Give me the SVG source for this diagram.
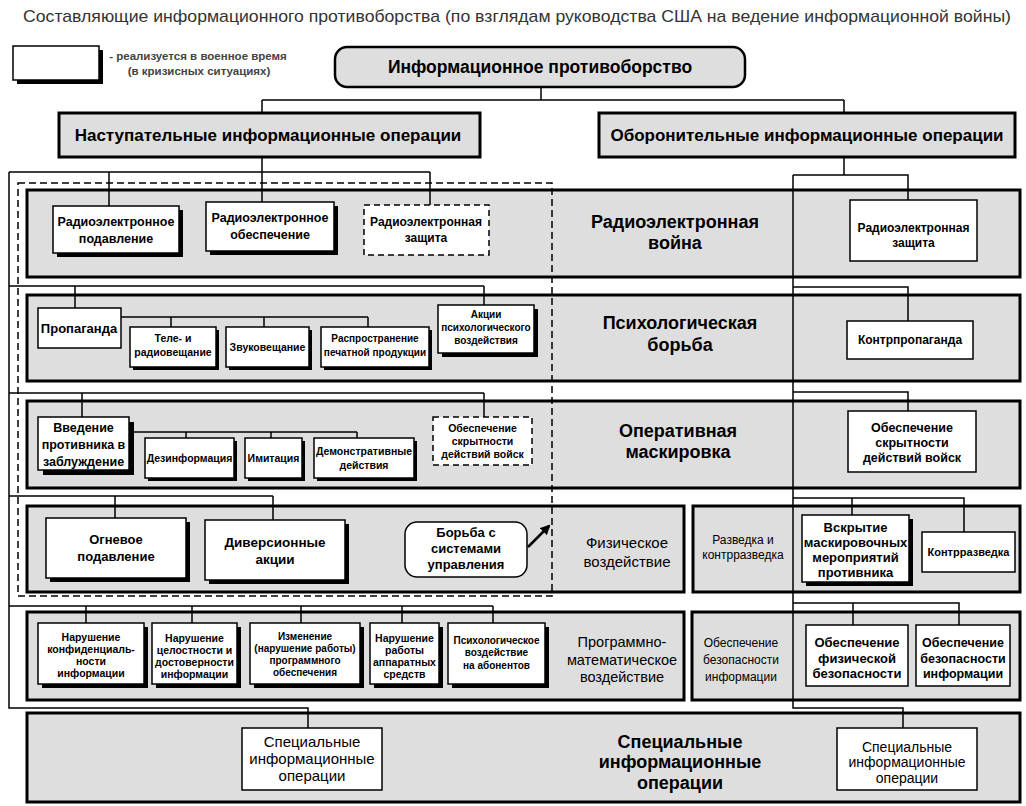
<svg xmlns="http://www.w3.org/2000/svg" width="1026" height="806" viewBox="0 0 1026 806">
<style>
text{font-family:"Liberation Sans",Arial,sans-serif;fill:#000;text-anchor:middle}
.t{font-size:17px;fill:#333}
.lg{font-size:11.5px;font-weight:bold;fill:#444}
.band{fill:#dedede;stroke:#000;stroke-width:3}
.hdr{fill:#dedede;stroke:#000;stroke-width:3}
.node{fill:#fff;stroke:#000;stroke-width:1.5}
.dnode{fill:#fff;stroke:#000;stroke-width:1.5;stroke-dasharray:6 4}
.sh{fill:#000}
.bt{font-size:18px;font-weight:bold}
.rt{font-size:15px}
.st{font-size:12px}
.b13{font-size:13px;font-weight:bold}
.b12{font-size:12px;font-weight:bold}
.b105{font-size:10.5px;font-weight:bold}
.b10{font-size:10px;font-weight:bold}
.h{font-size:17px;font-weight:bold}
#conn path{fill:none;stroke:#000;stroke-width:1.5}
</style>
<defs>
<marker id="ah" markerWidth="10" markerHeight="10" refX="8" refY="5" orient="auto" markerUnits="userSpaceOnUse">
<path d="M0,0 L10,5 L0,10 Z" fill="#000"/>
</marker>
</defs>

<text class="t" x="517" y="22" textLength="988" lengthAdjust="spacingAndGlyphs">Составляющие информационного противоборства (по взглядам руководства США на ведение информационной войны)</text>

<g id="legend">
<rect class="sh" x="17" y="50" width="86" height="34"/>
<rect class="node" x="13" y="46" width="86" height="34"/>
<text class="lg" x="198" y="60">- реализуется в военное время</text>
<text class="lg" x="199" y="75">(в кризисных ситуациях)</text>
</g>

<!-- bands -->
<g id="band-rew"><rect class="band" x="27" y="190" width="993" height="87"/>
<text class="bt" x="675" y="228">Радиоэлектронная</text><text class="bt" x="675" y="249">война</text></g>
<g id="band-psy"><rect class="band" x="27" y="295" width="993" height="86"/>
<text class="bt" x="680" y="329">Психологическая</text><text class="bt" x="680" y="351">борьба</text></g>
<g id="band-mask"><rect class="band" x="27" y="401" width="993" height="87"/>
<text class="bt" x="678" y="437">Оперативная</text><text class="bt" x="678" y="458">маскировка</text></g>
<g id="band-phys"><rect class="band" x="27" y="506" width="657" height="86"/>
<text class="rt" x="627" y="548">Физическое</text><text class="rt" x="627" y="567">воздействие</text></g>
<g id="band-recon"><rect class="band" x="693" y="506" width="327" height="86"/>
<text class="st" x="743" y="544">Разведка и</text><text class="st" x="743" y="559">контрразведка</text></g>
<g id="band-prog"><rect class="band" x="27" y="612" width="657" height="88"/>
<text class="rt" x="622" y="647" style="font-size:14.5px">Программно-</text><text class="rt" x="622" y="665" style="font-size:14.5px">математическое</text><text class="rt" x="622" y="682" style="font-size:14.5px">воздействие</text></g>
<g id="band-infosec"><rect class="band" x="692" y="612" width="328" height="88"/>
<text class="st" x="741" y="647">Обеспечение</text><text class="st" x="741" y="664">безопасности</text><text class="st" x="741" y="681">информации</text></g>
<g id="band-special"><rect class="band" x="27" y="713" width="993" height="89"/>
<text class="bt" x="680" y="748">Специальные</text><text class="bt" x="680" y="768">информационные</text><text class="bt" x="680" y="789">операции</text></g>

<!-- connectors -->
<g id="conn">
<path d="M541 87V100M262 100H844M262 100V113M844 100V113"/>
<path d="M262 157V172M9 172H430M109 172V206M262 172V202M430 172V205"/>
<path d="M9 172V708H308V728"/>
<path d="M9 286H484M75 286V308M484 286V305"/>
<path d="M121 317H368M171 317V327M264 317V327M368 317V327"/>
<path d="M9 393H484M82 393V417M484 393V417"/>
<path d="M129 432H357M186 432V438M271 432V438M357 432V438"/>
<path d="M9 496H273M115 496V518M273 496V520"/>
<path d="M9 606H493M86 606V623M192 606V623M301 606V623M402 606V623M493 606V623"/>
<path d="M844 157V175M793 175H908V200M793 175V708H903V728"/>
<path d="M793 287H908V321"/>
<path d="M793 392H908V411"/>
<path d="M793 498H964V532M852 498V515"/>
<path d="M793 603H959V625M853 603V625"/>
<line x1="528" y1="547" x2="549" y2="526" stroke="#000" stroke-width="2.5" marker-end="url(#ah)"/>
</g>

<rect id="wartime-frame" x="18" y="183" width="534" height="413" fill="none" stroke="#000" stroke-width="1.5" stroke-dasharray="7 4"/>

<!-- top level -->
<g id="n-root"><rect x="335" y="47" width="410" height="40" rx="12" fill="#dedede" stroke="#000" stroke-width="2.5"/>
<text class="h" x="540" y="73" style="font-size:17.5px">Информационное противоборство</text></g>
<g id="n-offense"><rect class="hdr" x="59" y="113" width="421" height="44"/>
<text class="h" x="268" y="141">Наступательные информационные операции</text></g>
<g id="n-defense"><rect class="hdr" x="599" y="113" width="416" height="44"/>
<text class="h" x="807" y="141">Оборонительные информационные операции</text></g>

<!-- band 1 -->
<g id="n-rep"><rect class="sh" x="57" y="210" width="126" height="47"/><rect class="node" x="53" y="206" width="126" height="47"/>
<text class="b13" x="116" y="226" style="font-size:12.5px">Радиоэлектронное</text><text class="b13" x="116" y="243" style="font-size:12.5px">подавление</text></g>
<g id="n-reo"><rect class="sh" x="210" y="206" width="128" height="49"/><rect class="node" x="206" y="202" width="128" height="49"/>
<text class="b13" x="270" y="222" style="font-size:12.5px">Радиоэлектронное</text><text class="b13" x="270" y="239" style="font-size:12.5px">обеспечение</text></g>
<g id="n-rez-war"><rect class="dnode" x="364" y="205" width="125" height="50"/>
<text class="b12" x="426" y="226">Радиоэлектронная</text><text class="b12" x="426" y="242">защита</text></g>

<!-- band 2 -->
<g id="n-prop"><rect class="node" x="38" y="308" width="83" height="40"/>
<text class="b13" x="79" y="333">Пропаганда</text></g>
<g id="n-tv"><rect class="sh" x="133" y="330" width="86" height="40"/><rect class="node" x="130" y="327" width="86" height="40"/>
<text class="b105" x="173" y="342">Теле- и</text><text class="b105" x="173" y="356">радиовещание</text></g>
<g id="n-sound"><rect class="sh" x="229" y="330" width="83" height="40"/><rect class="node" x="226" y="327" width="83" height="40"/>
<text class="b105" x="267.5" y="351">Звуковещание</text></g>
<g id="n-print"><rect class="sh" x="324" y="330" width="108" height="40"/><rect class="node" x="321" y="327" width="108" height="40"/>
<text class="b10" x="375" y="342">Распространение</text><text class="b10" x="375" y="356">печатной продукции</text></g>
<g id="n-psyact"><rect class="sh" x="442" y="309" width="96" height="48"/><rect class="node" x="438" y="305" width="96" height="48"/>
<text class="b10" x="486" y="318">Акции</text><text class="b10" x="486" y="331">психологического</text><text class="b10" x="486" y="344">воздействия</text></g>

<!-- band 3 -->
<g id="n-decept"><rect class="sh" x="43" y="422" width="91" height="53"/><rect class="node" x="38" y="417" width="91" height="53"/>
<text class="b13" x="83.5" y="432" style="font-size:12.5px">Введение</text><text class="b13" x="83.5" y="449" style="font-size:12.5px">противника в</text><text class="b13" x="83.5" y="466" style="font-size:12.5px">заблуждение</text></g>
<g id="n-disinfo"><rect class="sh" x="148" y="441" width="89" height="40"/><rect class="node" x="145" y="438" width="89" height="40"/>
<text class="b105" x="189.5" y="462">Дезинформация</text></g>
<g id="n-imit"><rect class="sh" x="248" y="441" width="57" height="40"/><rect class="node" x="245" y="438" width="57" height="40"/>
<text class="b105" x="273.5" y="462">Имитация</text></g>
<g id="n-demo"><rect class="sh" x="317" y="441" width="100" height="40"/><rect class="node" x="314" y="438" width="100" height="40"/>
<text class="b105" x="364" y="455">Демонстративные</text><text class="b105" x="364" y="469">действия</text></g>
<g id="n-conceal-war"><rect class="dnode" x="433" y="417" width="99" height="48"/>
<text class="b105" x="482.5" y="432">Обеспечение</text><text class="b105" x="482.5" y="445">скрытности</text><text class="b105" x="482.5" y="458">действий войск</text></g>

<!-- band 4 -->
<g id="n-fire"><rect class="sh" x="50" y="522" width="140" height="60"/><rect class="node" x="46" y="518" width="140" height="60"/>
<text class="b13" x="116" y="544">Огневое</text><text class="b13" x="116" y="561">подавление</text></g>
<g id="n-sabot"><rect class="sh" x="209" y="524" width="140" height="60"/><rect class="node" x="205" y="520" width="140" height="60"/>
<text class="b13" x="275" y="547" style="font-size:13.5px">Диверсионные</text><text class="b13" x="275" y="564" style="font-size:13.5px">акции</text></g>
<g id="n-c2w"><rect class="node" x="405" y="522" width="122" height="55" rx="12"/>
<text class="b13" x="466" y="537">Борьба с</text><text class="b13" x="466" y="553">системами</text><text class="b13" x="466" y="569">управления</text></g>

<!-- band 5 -->
<g id="n-conf"><rect class="sh" x="42" y="627" width="106" height="61"/><rect class="node" x="38" y="623" width="106" height="61"/>
<text class="b105" x="91" y="641">Нарушение</text><text class="b105" x="91" y="653">конфиденциаль-</text><text class="b105" x="91" y="665">ности</text><text class="b105" x="91" y="677">информации</text></g>
<g id="n-integ"><rect class="sh" x="156" y="627" width="85" height="61"/><rect class="node" x="152" y="623" width="85" height="61"/>
<text class="b105" x="194.5" y="642">Нарушение</text><text class="b105" x="194.5" y="654">целостности и</text><text class="b105" x="194.5" y="666">достоверности</text><text class="b105" x="194.5" y="678">информации</text></g>
<g id="n-soft"><rect class="sh" x="254" y="627" width="110" height="61"/><rect class="node" x="250" y="623" width="110" height="61"/>
<text class="b10" x="305" y="640">Изменение</text><text class="b10" x="305" y="652">(нарушение работы)</text><text class="b10" x="305" y="664">программного</text><text class="b10" x="305" y="676">обеспечения</text></g>
<g id="n-hw"><rect class="sh" x="374" y="627" width="69" height="61"/><rect class="node" x="370" y="623" width="69" height="61"/>
<text class="b105" x="404.5" y="642">Нарушение</text><text class="b105" x="404.5" y="654">работы</text><text class="b105" x="404.5" y="666">аппаратных</text><text class="b105" x="404.5" y="678">средств</text></g>
<g id="n-subs"><rect class="sh" x="452" y="627" width="97" height="61"/><rect class="node" x="448" y="623" width="97" height="61"/>
<text class="b10" x="496.5" y="644">Психологическое</text><text class="b10" x="496.5" y="656">воздействие</text><text class="b10" x="496.5" y="669">на абонентов</text></g>

<!-- band 6 -->
<g id="n-special-l"><rect class="node" x="242" y="728" width="140" height="62"/>
<text class="rt" x="312" y="747">Специальные</text><text class="rt" x="312" y="764">информационные</text><text class="rt" x="312" y="781">операции</text></g>
<g id="n-special-r"><rect class="node" x="837" y="728" width="140" height="62"/>
<text class="rt" x="907" y="752" style="font-size:14px">Специальные</text><text class="rt" x="907" y="767" style="font-size:14px">информационные</text><text class="rt" x="907" y="783" style="font-size:14px">операции</text></g>

<!-- right column -->
<g id="n-rez"><rect class="node" x="850" y="200" width="127" height="61"/>
<text class="b12" x="913.5" y="232">Радиоэлектронная</text><text class="b12" x="913.5" y="247">защита</text></g>
<g id="n-counterprop"><rect class="node" x="847" y="321" width="126" height="38"/>
<text class="b12" x="910" y="344">Контрпропаганда</text></g>
<g id="n-conceal"><rect class="node" x="848" y="411" width="128" height="61"/>
<text class="b12" x="912" y="432" style="font-size:12.5px">Обеспечение</text><text class="b12" x="912" y="447" style="font-size:12.5px">скрытности</text><text class="b12" x="912" y="462" style="font-size:12.5px">действий войск</text></g>
<g id="n-reveal"><rect class="sh" x="806" y="519" width="107" height="67"/><rect class="node" x="802" y="515" width="107" height="67"/>
<text class="b13" x="855.5" y="532">Вскрытие</text><text class="b13" x="855.5" y="547">маскировочных</text><text class="b13" x="855.5" y="562">мероприятий</text><text class="b13" x="855.5" y="577">противника</text></g>
<g id="n-counterint"><rect class="node" x="922" y="532" width="93" height="40"/>
<text class="b105" x="968.5" y="556" style="font-size:11px">Контрразведка</text></g>
<g id="n-physsec"><rect class="node" x="806" y="625" width="102" height="61"/>
<text class="b13" x="857" y="647">Обеспечение</text><text class="b13" x="857" y="663">физической</text><text class="b13" x="857" y="678">безопасности</text></g>
<g id="n-infosec"><rect class="node" x="916" y="625" width="94" height="61"/>
<text class="b13" x="963" y="647" style="font-size:12.5px">Обеспечение</text><text class="b13" x="963" y="663" style="font-size:12.5px">безопасности</text><text class="b13" x="963" y="678" style="font-size:12.5px">информации</text></g>
</svg>
